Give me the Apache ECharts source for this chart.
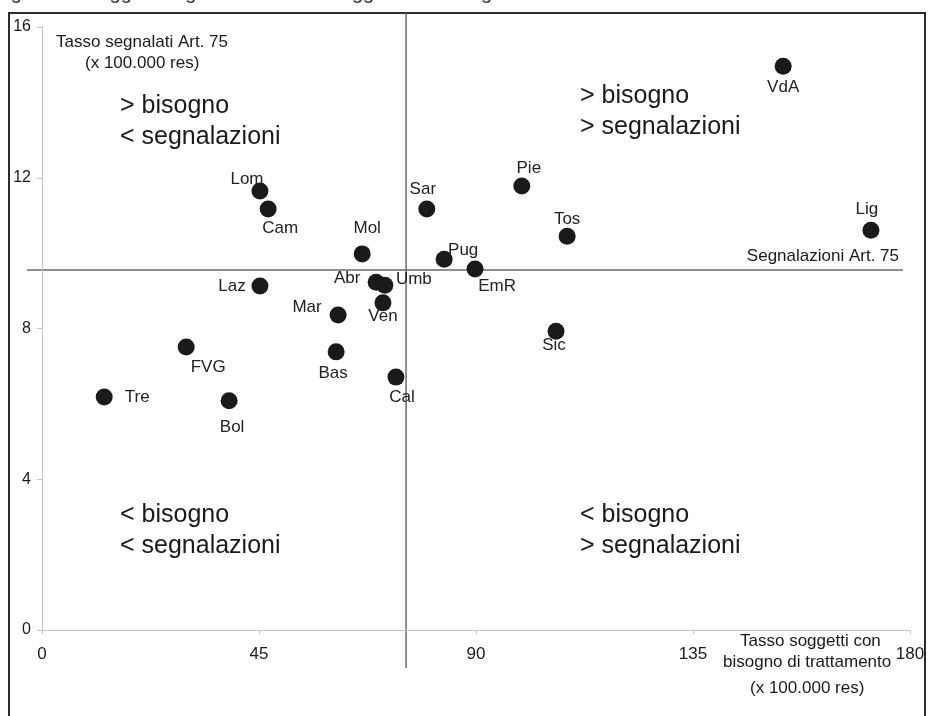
<!DOCTYPE html>
<html>
<head>
<meta charset="utf-8">
<script src="https://cdn.jsdelivr.net/npm/echarts@6/dist/echarts.min.js"></script>
<style>
html,body{margin:0;padding:0;background:#fff;}
#chart{width:929px;height:716px;}
</style>
</head>
<body>
<div id="chart"></div>
<script>
// ---- data ----
const regions = ['VdA','Lig','Pie','Tos','Sic','Sar','Pug','EmR','Lom','Cam','Mol','Abr','Umb','Ven','Laz','Mar','Bas','Cal','FVG','Tre','Bol'];
const bisogno = [153.7,171.9,99.5,108.9,106.6,79.8,83.4,89.8,45.2,46.9,66.4,69.3,71.1,70.7,45.2,61.4,61.0,73.4,29.9,12.9,38.8];
const segnalati = [14.96,10.61,11.78,10.45,7.93,11.17,9.84,9.58,11.65,11.17,9.98,9.23,9.15,8.68,9.13,8.36,7.38,6.71,7.51,6.18,6.08];
const xTicks = [0,45,90,135,180];
const yTicks = [0,4,8,12,16];
const meanBisogno = 75.5;
const meanSegnalati = 9.55;

// ---- label placement (layout, not data) ----
const labelOffset = {
  VdA:[0,21], Lig:[-4,-21], Pie:[7,-18], Tos:[0,-17], Sic:[-2,14], Sar:[-4,-20],
  Pug:[19,-9], EmR:[22,17], Lom:[-13,-12], Cam:[12,19], Mol:[5,-26], Abr:[-29,-4],
  Umb:[29,-6], Ven:[0,13], Laz:[-28,0], Mar:[-31,-8], Bas:[-3,21], Cal:[6,20],
  FVG:[22,20], Tre:[33,0], Bol:[3,26]
};

const FONT = 'Liberation Sans, Arial, sans-serif';
const TXT = '#1a1a1a';

const chart = echarts.init(document.getElementById('chart'), null, {renderer:'canvas'});

const points = regions.map((r,i) => ({
  name: r,
  value: [bisogno[i], segnalati[i]],
  label: {offset: labelOffset[r]}
}));

const quad = (x, y, l1, l2) => ([
  {type:'text', left:x, top:y, style:{text:l1, font:'25px ' + FONT, fill:TXT}},
  {type:'text', left:x, top:y+31, style:{text:l2, font:'25px ' + FONT, fill:TXT}}
]);

chart.setOption({
  animation:false,
  backgroundColor:'#fff',
  grid:{left:42, right:19, top:27, bottom:86, containLabel:false},
  xAxis:{
    type:'value', min:0, max:180, interval:45,
    axisLine:{show:true, onZero:false, lineStyle:{color:'#c4c4c4', width:1}},
    axisTick:{show:true, length:4, lineStyle:{color:'#c4c4c4'}},
    axisLabel:{margin:16, fontSize:17, color:TXT, fontFamily:FONT,
      formatter: v => xTicks.indexOf(v) >= 0 ? String(v) : ''},
    splitLine:{show:false}
  },
  yAxis:{
    type:'value', min:0, max:16, interval:4,
    axisLine:{show:true, onZero:false, lineStyle:{color:'#c4c4c4', width:1}},
    axisTick:{show:true, length:5, lineStyle:{color:'#c4c4c4'}},
    axisLabel:{margin:11, fontSize:16, color:TXT, fontFamily:FONT,
      formatter: v => yTicks.indexOf(v) >= 0 ? String(v) : ''},
    splitLine:{show:false}
  },
  series:[{
    type:'scatter',
    symbol:'circle',
    symbolSize:17,
    itemStyle:{color:'#1a1a1a', opacity:1},
    z:5,
    label:{show:true, position:'inside', formatter:'{b}', color:'#222',
      fontSize:17, fontFamily:FONT, align:'center', verticalAlign:'middle'},
    emphasis:{disabled:true},
    data: points
  }]
});

// reference lines & annotations positioned through the chart's scales
const pMean = chart.convertToPixel({gridIndex:0}, [meanBisogno, meanSegnalati]);
const p0 = chart.convertToPixel({gridIndex:0}, [0, 0]);
const pMax = chart.convertToPixel({gridIndex:0}, [180, 16]);

const graphics = [
  {type:'rect', shape:{x:9, y:13, width:916, height:730},
    style:{fill:null, stroke:'#2b2b2b', lineWidth:2}, z:-1},
  {type:'text', left:-6, top:-17,
    style:{text:'Figura 4 - Soggetti segnalati Art. 75 e soggetti con bisogno di trattamento ...', font:'20px ' + FONT, fill:'#333'}},
  {type:'line', shape:{x1:pMean[0], y1:13, x2:pMean[0], y2:p0[1]+38},
    style:{stroke:'#6a6a6a', lineWidth:1.5}},
  {type:'line', shape:{x1:p0[0]-15, y1:pMean[1], x2:pMax[0]-7, y2:pMean[1]},
    style:{stroke:'#6a6a6a', lineWidth:1.5}},
  {type:'text', left:56, top:34, style:{text:'Tasso segnalati Art. 75', font:'17px ' + FONT, fill:TXT}},
  {type:'text', left:85, top:55, style:{text:'(x 100.000 res)', font:'17px ' + FONT, fill:TXT}},
  {type:'text', right:929-899, top:248, style:{text:'Segnalazioni Art. 75', font:'17px ' + FONT, fill:TXT}},
  {type:'text', left:740, top:633, style:{text:'Tasso soggetti con', font:'17px ' + FONT, fill:TXT}},
  {type:'text', left:723, top:654, style:{text:'bisogno di trattamento', font:'17px ' + FONT, fill:TXT}},
  {type:'text', left:750, top:680, style:{text:'(x 100.000 res)', font:'17px ' + FONT, fill:TXT}}
].concat(
  quad(120, 94, '> bisogno', '< segnalazioni'),
  quad(580, 84, '> bisogno', '> segnalazioni'),
  quad(120, 503, '< bisogno', '< segnalazioni'),
  quad(580, 503, '< bisogno', '> segnalazioni')
);

chart.setOption({graphic: graphics});
</script>
</body>
</html>
